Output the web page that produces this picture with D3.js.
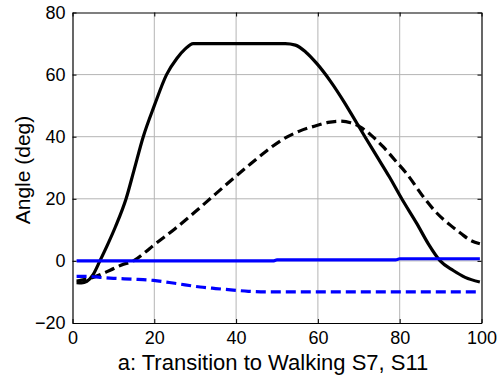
<!DOCTYPE html>
<html>
<head>
<meta charset="utf-8">
<script src="https://cdn.jsdelivr.net/npm/d3@7"></script>
<style>
  html, body { margin: 0; padding: 0; background: #fff; }
  svg { display: block; font-family: "Liberation Sans", Arial, sans-serif; }
</style>
</head>
<body>
<svg id="chart" width="500" height="383"></svg>
<script>
// Axis ranges and tick labels
const xTicks = [0, 20, 40, 60, 80, 100];
const yTicks = [-20, 0, 20, 40, 60, 80];
const xLabel = "a: Transition to Walking S7, S11";
const yLabel = "Angle (deg)";

// Joint angle traces, [percent, degrees]
const blackSolid = [
  [1, -7], [2.2, -7.1], [3.5, -6.6], [5, -4.5], [6.7, 0], [8.5, 5], [10.5, 11],
  [13.1, 20], [15, 29], [17.3, 40], [20, 50], [23, 60], [25.5, 65.2],
  [27.5, 68.2], [29.5, 70], [35, 70], [45, 70], [52, 70], [54.5, 69.5],
  [57, 67.3], [59.7, 63.6], [63, 58], [66.5, 51], [69, 45.5], [71.5, 40],
  [74.5, 33.5], [77.5, 27], [80.5, 20], [84.2, 12], [87, 5.5], [89.9, 0],
  [93.1, -3.1], [96, -5.3], [99.6, -6.8]
];
const blackDashed = [
  [1, -6.5], [2.2, -6.2], [5, -5.3], [9.2, -3], [12, -1.3], [14.9, 0],
  [17.5, 2.5], [19.8, 5], [25, 10.3], [30, 15.8], [35, 21.6], [40, 27.3],
  [43.5, 31.2], [47.5, 35.5], [51.5, 39.2], [55.5, 41.8], [59.7, 43.6],
  [62.5, 44.6], [65.4, 45], [68, 44.5], [70.3, 43.2], [73, 40.5],
  [76, 36.7], [78.8, 32.5], [81.7, 28.1], [85.8, 20.6], [89, 15.5],
  [92.3, 11.6], [95, 8.8], [97.5, 6.5], [99.6, 5.5]
];
const blueSolid = [
  [1, 0], [49, 0], [50, 0.3], [79, 0.3], [80, 0.7], [99.6, 0.7]
];
const blueDashed = [
  [1, -5], [4, -5], [6.7, -5.3], [10, -5.6], [15, -5.9], [19.8, -6.3],
  [25, -7.2], [31.2, -8.4], [35, -8.9], [39.3, -9.4], [43, -9.8],
  [48, -10], [60, -10], [80, -10], [99.6, -10]
];

const series = [
  { data: blackSolid, color: "#000000", dash: null },
  { data: blackDashed, color: "#000000", dash: "10,5" },
  { data: blueSolid, color: "#0000ff", dash: null },
  { data: blueDashed, color: "#0000ff", dash: "10,5" }
];

const svg = d3.select("#chart");
const mLeft = 72.5, mRight = 481.5, mTop = 12.5, mBottom = 323;

const x = d3.scaleLinear().domain([0, 100]).range([mLeft, mRight]);
const y = d3.scaleLinear().domain([-20, 80]).range([mBottom, mTop]);

// Grid
const grid = svg.append("g");
grid.selectAll("line.gx").data(xTicks.slice(1, -1)).join("line")
  .attr("x1", d => x(d)).attr("x2", d => x(d))
  .attr("y1", mTop).attr("y2", mBottom)
  .attr("stroke", "#b4b4b4").attr("stroke-width", 1);
grid.selectAll("line.gy").data(yTicks.slice(1, -1)).join("line")
  .attr("y1", d => y(d)).attr("y2", d => y(d))
  .attr("x1", mLeft).attr("x2", mRight)
  .attr("stroke", "#b4b4b4").attr("stroke-width", 1);

// Curves
const line = d3.line().x(d => x(d[0])).y(d => y(d[1])).curve(d3.curveMonotoneX);
series.forEach(s => {
  svg.append("path")
    .attr("d", line(s.data))
    .attr("fill", "none")
    .attr("stroke", s.color)
    .attr("stroke-width", 3.2)
    .attr("stroke-dasharray", s.dash)
    .attr("stroke-linejoin", "round");
});

// Axes with inward ticks on all four sides
const tickLen = 4;
const xAxisB = d3.axisBottom(x).tickValues(xTicks).tickSizeInner(-tickLen).tickSizeOuter(0).tickPadding(8);
const xAxisT = d3.axisTop(x).tickValues(xTicks).tickSizeInner(-tickLen).tickSizeOuter(0).tickFormat("");
const yAxisL = d3.axisLeft(y).tickValues(yTicks).tickSizeInner(-tickLen).tickSizeOuter(0).tickPadding(7);
const yAxisR = d3.axisRight(y).tickValues(yTicks).tickSizeInner(-tickLen).tickSizeOuter(0).tickFormat("");

function style(g) {
  g.selectAll("path").attr("stroke", "#000").attr("stroke-width", 1.2);
  g.selectAll("line").attr("stroke", "#000").attr("stroke-width", 1);
  g.selectAll("text").attr("fill", "#000").attr("font-size", 18)
    .attr("font-family", "'Liberation Sans', Arial, sans-serif");
}
svg.append("g").attr("transform", `translate(0,${mBottom})`).call(xAxisB).call(style);
svg.append("g").attr("transform", `translate(0,${mTop})`).call(xAxisT).call(style);
svg.append("g").attr("transform", `translate(${mLeft},0)`).call(yAxisL).call(style);
svg.append("g").attr("transform", `translate(${mRight},0)`).call(yAxisR).call(style);

// Axis titles
svg.append("text")
  .attr("x", 273).attr("y", 370)
  .attr("text-anchor", "middle").attr("font-size", 22).attr("fill", "#000")
  .text(xLabel);
svg.append("text")
  .attr("transform", `translate(30,170) rotate(-90)`)
  .attr("text-anchor", "middle").attr("font-size", 21).attr("fill", "#000")
  .text(yLabel);
</script>
</body>
</html>
